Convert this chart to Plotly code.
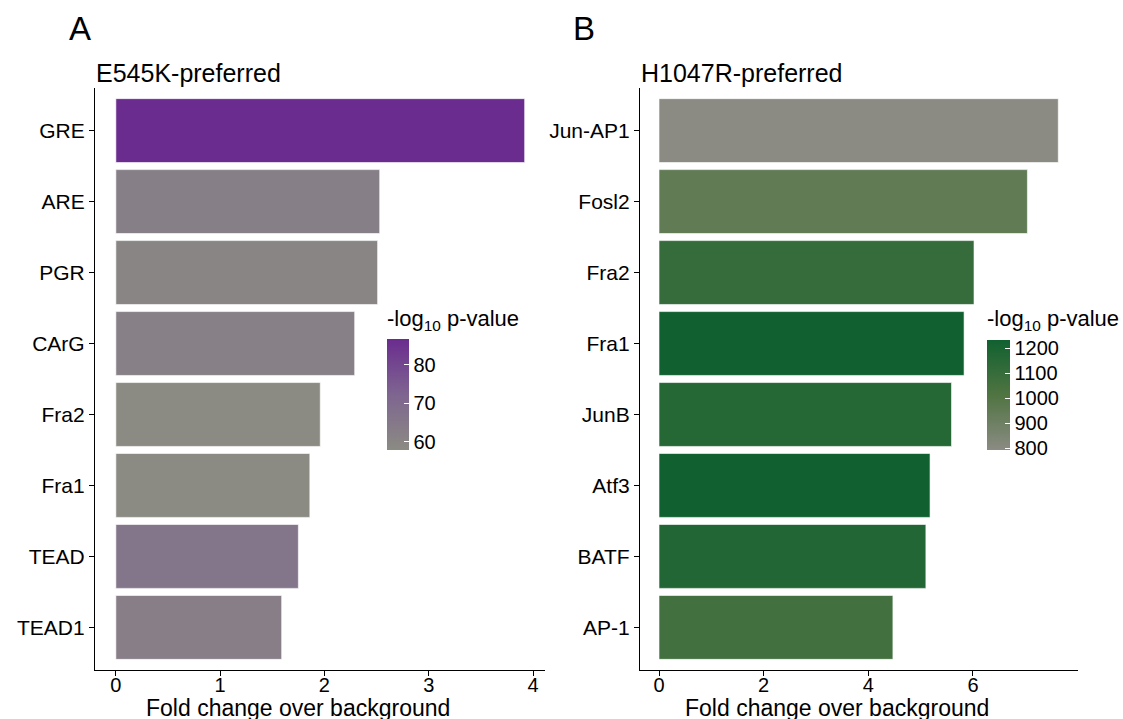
import plotly.graph_objects as go

# Panel A data
cats_a = ["GRE", "ARE", "PGR", "CArG", "Fra2", "Fra1", "TEAD", "TEAD1"]
fold_a = [3.92, 2.53, 2.51, 2.29, 1.96, 1.86, 1.75, 1.59]
pval_a = [86.7, 62.4, 60.0, 62.1, 57.8, 58.1, 65.9, 62.7]

# Panel B data
cats_b = ["Jun-AP1", "Fosl2", "Fra2", "Fra1", "JunB", "Atf3", "BATF", "AP-1"]
fold_b = [7.63, 7.04, 6.02, 5.83, 5.59, 5.18, 5.10, 4.47]
pval_b = [793, 950, 1104, 1233, 1160, 1233, 1174, 1062]

ticks_a = [60, 70, 80]
ticks_b = [800, 900, 1000, 1100, 1200]
xticks_a = [0, 1, 2, 3, 4]
xticks_b = [0, 2, 4, 6]

FONT = "Liberation Sans, Arial, sans-serif"
W, H = 1123, 719
LOW = "#8B8B83"
SCALE_A = [[0, LOW], [0.5, "#7E6590"], [1, "#6A2C8E"]]
SCALE_B = [[0, LOW], [0.5, "#507442"], [1, "#116130"]]

fig = go.Figure()
fig.add_trace(go.Bar(
    y=cats_a, x=fold_a, orientation="h", width=0.9,
    marker=dict(color=pval_a, coloraxis="coloraxis",
                line=dict(color="rgba(255,255,255,0.6)", width=1)),
    xaxis="x", yaxis="y", showlegend=False))
fig.add_trace(go.Bar(
    y=cats_b, x=fold_b, orientation="h", width=0.9,
    marker=dict(color=pval_b, coloraxis="coloraxis2",
                line=dict(color="rgba(255,255,255,0.6)", width=1)),
    xaxis="x2", yaxis="y2", showlegend=False))

ydom = [1 - 670 / H, 1 - 88 / H]

base_axis = dict(showline=True, linecolor="black", linewidth=1.2,
                 ticks="outside", ticklen=5, tickcolor="black",
                 showgrid=False, zeroline=False)
yfont = dict(family=FONT, size=21, color="black")
xfont = dict(family=FONT, size=20, color="black")

fig.update_layout(
    width=W, height=H,
    margin=dict(l=0, r=0, t=0, b=0),
    plot_bgcolor="white", paper_bgcolor="white",
    xaxis=dict(domain=[95 / W, 545 / W], range=[-0.2, 4.115], anchor="y",
               tickvals=xticks_a, tickfont=xfont, ticklabelstandoff=-8, **base_axis),
    yaxis=dict(domain=ydom, anchor="x", type="category",
               categoryorder="array", categoryarray=cats_a,
               range=[7.6, -0.6], tickfont=yfont, **base_axis),
    xaxis2=dict(domain=[640 / W, 1078 / W], range=[-0.363, 8.007], anchor="y2",
                tickvals=xticks_b, tickfont=xfont, ticklabelstandoff=-8, **base_axis),
    yaxis2=dict(domain=ydom, anchor="x2", type="category",
                categoryorder="array", categoryarray=cats_b,
                range=[7.6, -0.6], tickfont=yfont, **base_axis),
    coloraxis=dict(
        colorscale=SCALE_A,
        colorbar=dict(x=387 / W, xanchor="left", xpad=0,
                      y=1 - 339 / H, yanchor="top", ypad=0,
                      lenmode="pixels", len=111, thickness=22,
                      outlinewidth=0, tickvals=ticks_a,
                      ticks="inside", ticklen=5, tickcolor="white",
                      tickfont=dict(family=FONT, size=20, color="black"))),
    coloraxis2=dict(
        colorscale=SCALE_B,
        colorbar=dict(x=987 / W, xanchor="left", xpad=0,
                      y=1 - 340 / H, yanchor="top", ypad=0,
                      lenmode="pixels", len=110, thickness=23,
                      outlinewidth=0, tickvals=ticks_b,
                      ticks="inside", ticklen=5, tickcolor="white",
                      tickfont=dict(family=FONT, size=20, color="black"))),
)

annots = [
    dict(text="A", x=67 / W, y=1 - 29 / H, size=33, anchor="left"),
    dict(text="B", x=571 / W, y=1 - 29 / H, size=33, anchor="left"),
    dict(text="E545K-preferred", x=94 / W, y=1 - 73 / H, size=25, anchor="left"),
    dict(text="H1047R-preferred", x=639 / W, y=1 - 73 / H, size=25, anchor="left"),
    dict(text="-log<sub>10</sub> p-value", x=385 / W, y=1 - 320 / H, size=22, anchor="left"),
    dict(text="-log<sub>10</sub> p-value", x=985 / W, y=1 - 320 / H, size=22, anchor="left"),
    dict(text="Fold change over background", x=298 / W, y=1 - 708 / H, size=23, anchor="center"),
    dict(text="Fold change over background", x=837 / W, y=1 - 708 / H, size=23, anchor="center"),
]
for a in annots:
    fig.add_annotation(text=a["text"], x=a["x"], y=a["y"], xref="paper", yref="paper",
                       xanchor=a["anchor"], yanchor="middle", showarrow=False,
                       font=dict(family=FONT, size=a["size"], color="black"))

fig.write_html("out.html", config={"displayModeBar": False},
               post_script="document.body.style.margin='0px';document.body.style.overflow='hidden';")
